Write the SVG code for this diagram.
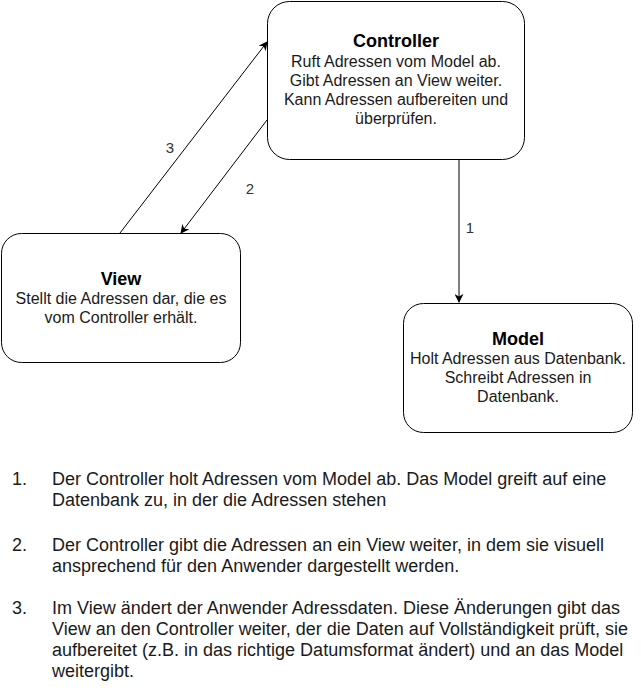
<svg xmlns="http://www.w3.org/2000/svg" width="641" height="694" viewBox="0 0 641 694">
<style>
.box{fill:#fff;stroke:#000;stroke-width:1}
.t{font-family:"Liberation Sans",Arial,sans-serif;font-size:16px;fill:#1a1a1a;text-anchor:middle}
.h{font-family:"Liberation Sans",Arial,sans-serif;font-size:18px;font-weight:bold;fill:#000;text-anchor:middle}
.c{stroke:#000;stroke-width:1;fill:none;marker-end:url(#a)}
.l{font-family:"Liberation Sans",Arial,sans-serif;font-size:15px;fill:#333;text-anchor:middle}
.p{font-family:"Liberation Sans",Arial,sans-serif;font-size:18px;fill:#1a1a1a}
</style>
<defs>
<marker id="a" viewBox="0 0 10 10" refX="9" refY="5" markerWidth="9" markerHeight="9" orient="auto" markerUnits="userSpaceOnUse">
<path d="M0,0 L10,5 L0,10 L3,5 Z" fill="#000"/>
</marker>
</defs>
<rect width="641" height="694" fill="#fff"/>
<g id="connectors">
<line class="c" x1="120" y1="233" x2="267" y2="42"/>
<line class="c" x1="267" y1="120" x2="181" y2="233"/>
<line class="c" x1="459" y1="160" x2="459" y2="302"/>
<text class="l" x="170" y="153">3</text>
<text class="l" x="250" y="194">2</text>
<text class="l" x="470" y="233">1</text>
</g>
<g id="controller">
<rect class="box" x="267.5" y="1.5" width="257" height="158" rx="22"/>
<text class="h" x="396" y="47">Controller</text>
<text class="t" x="396" y="67">Ruft Adressen vom Model ab.</text>
<text class="t" x="396" y="86">Gibt Adressen an View weiter.</text>
<text class="t" x="396" y="105">Kann Adressen aufbereiten und</text>
<text class="t" x="396" y="124">überprüfen.</text>
</g>
<g id="view">
<rect class="box" x="1.5" y="233.5" width="239" height="129" rx="20"/>
<text class="h" x="121" y="285">View</text>
<text class="t" x="121" y="304">Stellt die Adressen dar, die es</text>
<text class="t" x="121" y="323">vom Controller erhält.</text>
</g>
<g id="model">
<rect class="box" x="403.5" y="303.5" width="229" height="129" rx="20"/>
<text class="h" x="518" y="345">Model</text>
<text class="t" x="518" y="364">Holt Adressen aus Datenbank.</text>
<text class="t" x="518" y="383">Schreibt Adressen in</text>
<text class="t" x="518" y="402">Datenbank.</text>
</g>
<g id="list">
<text class="p" x="12" y="485">1.</text>
<text class="p" x="52" y="485">Der Controller holt Adressen vom Model ab. Das Model greift auf eine</text>
<text class="p" x="52" y="506">Datenbank zu, in der die Adressen stehen</text>
<text class="p" x="12" y="551">2.</text>
<text class="p" x="52" y="551">Der Controller gibt die Adressen an ein View weiter, in dem sie visuell</text>
<text class="p" x="52" y="572">ansprechend für den Anwender dargestellt werden.</text>
<text class="p" x="12" y="614">3.</text>
<text class="p" x="52" y="614">Im View ändert der Anwender Adressdaten. Diese Änderungen gibt das</text>
<text class="p" x="52" y="635">View an den Controller weiter, der die Daten auf Vollständigkeit prüft, sie</text>
<text class="p" x="52" y="656">aufbereitet (z.B. in das richtige Datumsformat ändert) und an das Model</text>
<text class="p" x="52" y="677">weitergibt.</text>
</g>
</svg>
